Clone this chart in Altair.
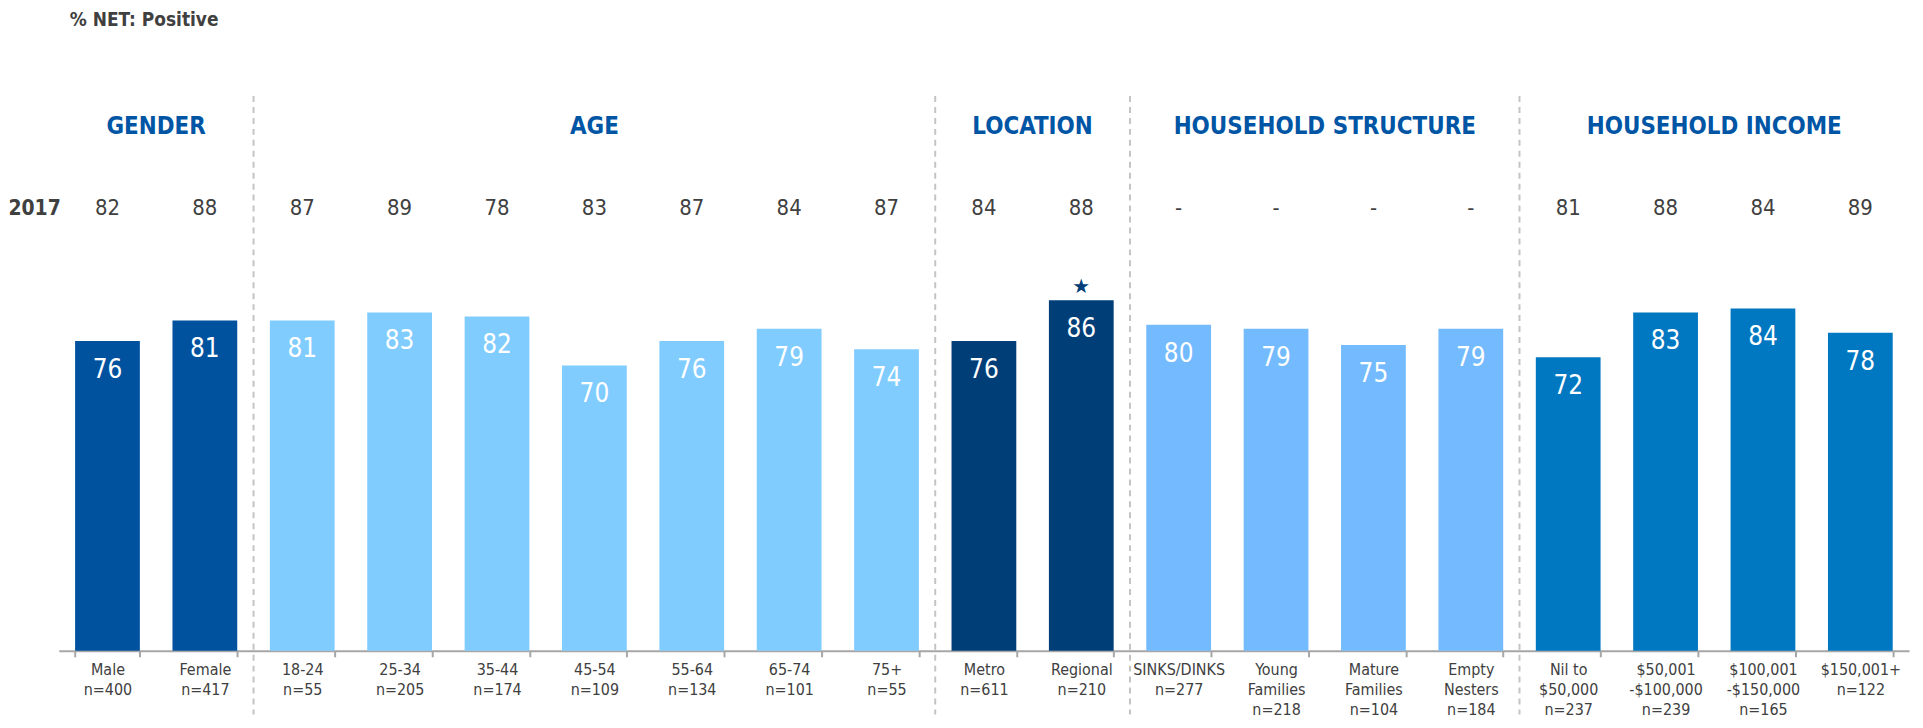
import altair as alt
import pandas as pd

# ---------------- data ----------------
categories = ["Male", "Female", "18-24", "25-34", "35-44", "45-54", "55-64", "65-74", "75+",
              "Metro", "Regional", "SINKS/DINKS", "Young\nFamilies", "Mature\nFamilies", "Empty\nNesters",
              "Nil to\n$50,000", "$50,001\n-$100,000", "$100,001\n-$150,000", "$150,001+"]
sample_sizes = [400, 417, 55, 205, 174, 109, 134, 101, 55, 611, 210, 277, 218, 104, 184, 237, 239, 165, 122]
values_2018 = [76, 81, 81, 83, 82, 70, 76, 79, 74, 76, 86, 80, 79, 75, 79, 72, 83, 84, 78]
values_2017 = ["82", "88", "87", "89", "78", "83", "87", "84", "87", "84", "88", "-", "-", "-", "-",
               "81", "88", "84", "89"]
significant = [False] * 10 + [True] + [False] * 8
group_names = ["GENDER", "AGE", "LOCATION", "HOUSEHOLD STRUCTURE", "HOUSEHOLD INCOME"]
group_sizes = [2, 7, 2, 4, 4]
group_colors = ["#00529F", "#80CCFF", "#003E78", "#73BBFE", "#0077C1"]
title_text = "% NET: Positive"
row_label = "2017"

# ---------------- build tables ----------------
groups = []
for g, s in zip(group_names, group_sizes):
    groups += [g] * s
labels = [f"{c}\nn={n}" for c, n in zip(categories, sample_sizes)]

df = pd.DataFrame({
    "label": labels,
    "value": values_2018,
    "prev": values_2017,
    "group": groups,
    "sig": significant,
})

bounds = []
acc = 0
centers = []
for s in group_sizes:
    centers.append(acc + s / 2)
    acc += s
    bounds.append(acc)
df_groups = pd.DataFrame({"group": group_names, "center": centers})
df_sep = pd.DataFrame({"pos": bounds[:-1]})
n_cat = len(categories)

FONT = "Liberation Sans Narrow, Arial Narrow, DejaVu Sans Condensed, Liberation Sans, sans-serif"
Y_MAX = 150
HEADER_Y = 128.5
ROW_Y = 108.5
TITLE_Y = 154.7
SEP_TOP = 136.1
SEP_BOTTOM = -15.6

xband = alt.X(
    "label:N",
    sort=labels,
    scale=alt.Scale(domain=labels, paddingInner=0.335, paddingOuter=0.1675),
    axis=alt.Axis(
        title=None, labelAngle=0, labelExpr="split(datum.label, '\\n')",
        labelFontSize=16, labelFont=FONT, labelColor="#404040", labelLineHeight=20,
        labelPadding=5, labelBaseline="top", labelOverlap=False, labelLimit=300,
        tickBand="extent", tickSize=6, tickColor="#A6A6A6", tickWidth=2,
        domainColor="#A6A6A6", domainWidth=2, grid=False,
    ),
)
yscale = alt.Scale(domain=[0, Y_MAX], nice=False, zero=True)

base = alt.Chart(df)

bars = base.mark_bar().encode(
    x=xband,
    y=alt.Y("value:Q", scale=yscale, axis=None),
    color=alt.Color("group:N", scale=alt.Scale(domain=group_names, range=group_colors), legend=None),
)

bar_text = base.mark_text(color="white", font=FONT, fontSize=26, baseline="middle", dy=29).encode(
    x=xband,
    y=alt.Y("value:Q", scale=yscale, axis=None),
    text=alt.Text("value:Q"),
)

star = base.transform_filter("datum.sig").mark_text(
    color="#003E78", font="DejaVu Sans", fontSize=20, baseline="middle", dy=-13
).encode(
    x=xband,
    y=alt.Y("value:Q", scale=yscale, axis=None),
    text=alt.value("★"),
)

prev_row = base.mark_text(color="#404040", font=FONT, fontSize=22, baseline="middle").encode(
    x=xband,
    y=alt.datum(ROW_Y),
    text=alt.Text("prev:N"),
)

band_layers = alt.layer(bars, bar_text, star, prev_row)

xlin = alt.Scale(domain=[0, n_cat], nice=False, zero=False)

headers = alt.Chart(df_groups).mark_text(
    color="#0055A5", font=FONT, fontSize=24, fontWeight="bold", baseline="middle"
).encode(
    x=alt.X("center:Q", scale=xlin, axis=None),
    y=alt.datum(HEADER_Y),
    text="group:N",
)

seps = alt.Chart(df_sep).mark_rule(color="#C4C4C4", strokeWidth=2, strokeDash=[6, 5]).encode(
    x=alt.X("pos:Q", scale=xlin, axis=None),
    y=alt.datum(SEP_TOP),
    y2=alt.datum(SEP_BOTTOM),
)

row_lbl = alt.Chart(pd.DataFrame({"t": [row_label], "x": [0.02]})).mark_text(
    color="#404040", font=FONT, fontSize=21, fontWeight="bold", baseline="middle", align="right"
).encode(
    x=alt.X("x:Q", scale=xlin, axis=None),
    y=alt.datum(ROW_Y),
    text="t:N",
)

title = alt.Chart(pd.DataFrame({"t": [title_text], "x": [0.112]})).mark_text(
    color="#404040", font=FONT, fontSize=19, fontWeight="bold", baseline="middle", align="left"
).encode(
    x=alt.X("x:Q", scale=xlin, axis=None),
    y=alt.datum(TITLE_Y),
    text="t:N",
)

lin_layers = alt.layer(seps, headers, row_lbl, title)

chart = alt.layer(band_layers, lin_layers).resolve_scale(x="independent").properties(
    width=1858,
    height=614,
    autosize=alt.AutoSizeParams(type="none"),
    padding={"left": 51, "top": 30, "right": 6, "bottom": 68},
).configure_view(strokeWidth=0)

chart.save("out.html", embed_options={"renderer": "svg", "actions": False})
